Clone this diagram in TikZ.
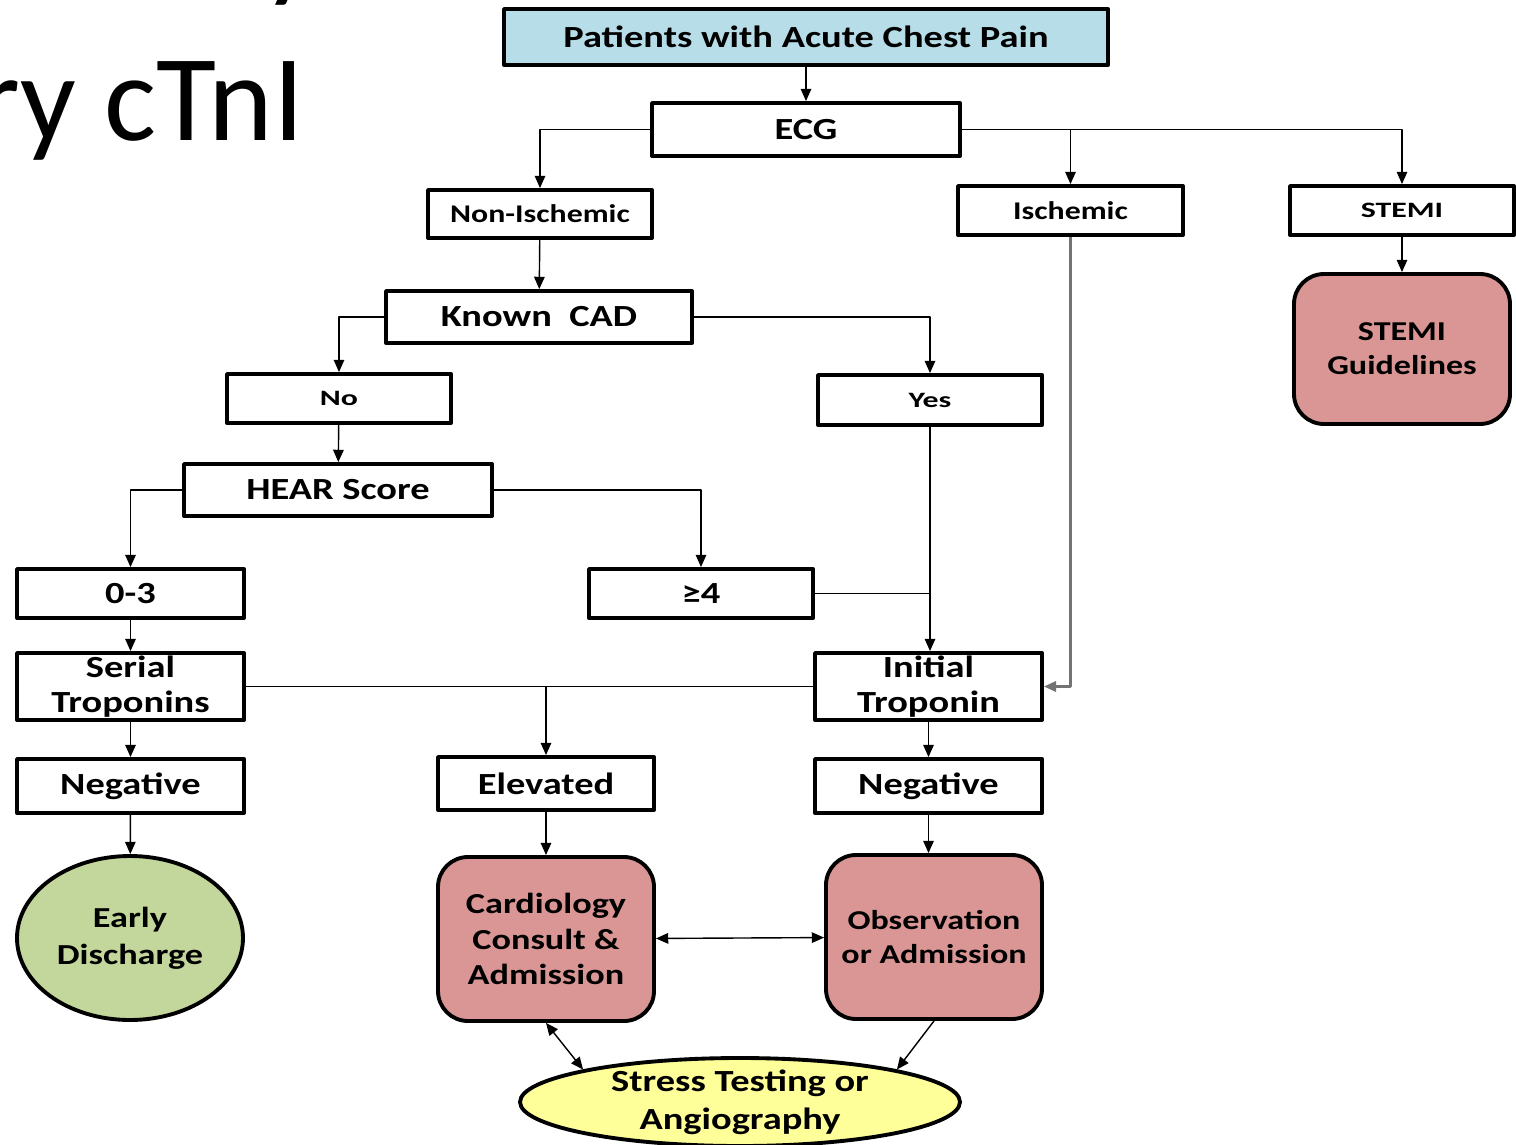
\documentclass[tikz,border=0pt]{standalone}
\usepackage{fontspec}
\setmainfont{Carlito}
\newfontfamily\wfont[FakeStretch=1.25]{Carlito}
\newfontfamily\xwfont[FakeStretch=1.45]{Carlito}
\usetikzlibrary{arrows.meta,shapes.geometric}
\definecolor{paleblue}{RGB}{183,221,232}
\definecolor{rosy}{RGB}{217,150,148}
\definecolor{sage}{RGB}{195,214,155}
\definecolor{lemon}{RGB}{255,255,153}
\tikzset{
  boxsz/.style 2 args={minimum width=#1*0.02cm, minimum height=#2*0.02cm},
  box/.style={draw, line width=2.2pt, inner sep=0pt, align=center, fill=white},
  rbox/.style={box, rounded corners=0.6cm, fill=rosy},
  oval/.style={box, ellipse},
  title/.style={inner sep=0pt, font=\fontsize{70}{80}\selectfont},
  txtbig/.style={font=\wfont\bfseries\fontsize{17.5}{20}\selectfont},
  txtmid/.style={font=\wfont\bfseries\fontsize{14.5}{17}\selectfont},
  txtsml/.style={font=\xwfont\bfseries\fontsize{12.5}{15}\selectfont},
  txtrnd/.style={font=\wfont\bfseries\fontsize{16.5}{20}\selectfont},
  link/.style={line width=0.8pt},
}
\begin{document}
\begin{tikzpicture}[x=0.02cm, y={(0cm,-0.02cm)}, >={Triangle[length=7pt,width=6pt]}, line join=round]
\useasboundingbox (0,0) rectangle (1516,1144);
% slide title, cut by the frame
\node[title, anchor=base west] (ttl) at (-23,140) {ry cTnI};
\node[title, anchor=base west] (ttlup) at (262,-15) {y};

% first levels
\node[box, boxsz={604}{56}, fill=paleblue, font=\wfont\bfseries\fontsize{17.5}{20}\selectfont] (pat) at (806,37) {Patients with Acute Chest Pain};
\node[box, boxsz={308}{53}, txtbig] (ecg) at (806,129.5) {ECG};
\node[box, boxsz={224}{48}, txtmid] (nonisch) at (540,214) {Non-Ischemic};
\node[box, boxsz={225}{49}, txtmid] (isch) at (1070.5,210.5) {Ischemic};
\node[box, boxsz={224}{49}, txtsml] (stemi) at (1402,210.5) {STEMI};
\node[rbox, boxsz={216}{150}, font=\wfont\bfseries\fontsize{15.5}{19.5}\selectfont] (stemig) at (1402,349) {STEMI\\Guidelines};

% known CAD branch
\node[box, boxsz={306}{52}, txtbig] (kcad) at (539,317) {Known~~CAD};
\node[box, boxsz={224}{49}, txtsml] (no) at (339,398.5) {No};
\node[box, boxsz={224}{50}, txtsml] (yes) at (930,400) {Yes};
\node[box, boxsz={308}{52}, txtbig] (hear) at (338,490) {HEAR Score};
\node[box, boxsz={227}{49}, txtbig] (zt) at (130.5,593.5) {0-3};
\node[box, boxsz={224}{49}, txtbig] (ge4) at (701,593.5) {≥4};

% troponins
\node[box, boxsz={227}{67}, label={[txtbig, align=center, inner sep=0pt]center:{Serial\\[-0.5pt]Troponins}}] (serial) at (130.5,686.5) {};
\node[box, boxsz={227}{67}, label={[txtbig, align=center, inner sep=0pt]center:{Initial\\[-0.5pt]Troponin}}] (init) at (928.5,686.5) {};
\node[box, boxsz={227}{54}, txtbig] (negl) at (130.5,786) {Negative};
\node[box, boxsz={216}{53}, txtbig] (elev) at (546,783.5) {Elevated};
\node[box, boxsz={227}{54}, txtbig] (negr) at (928.5,786) {Negative};

% outcomes
\node[oval, boxsz={226}{164}, fill=sage, font=\wfont\bfseries\fontsize{16.5}{21}\selectfont] (early) at (130,938) {Early\\Discharge};
\node[rbox, boxsz={216}{164}, txtrnd] (card) at (546,939) {Cardiology\\Consult \&\\Admission};
\node[rbox, boxsz={216}{164}, font=\wfont\bfseries\fontsize{15.5}{19.5}\selectfont] (obs) at (934,937) {Observation\\or Admission};
\node[oval, boxsz={440}{88}, fill=lemon, label={[align=center, inner sep=0pt, font=\wfont\bfseries\fontsize{17.5}{21.5}\selectfont]center:{Stress Testing or\\Angiography}}] (stress) at (740,1102) {};

% connectors
\draw[link,->] (pat) -- (ecg);
\draw[link,->] (ecg.west) -| (nonisch.north);
\draw[link,->] (ecg.east) -| (stemi.north);
\draw[link,->] (ecg.east -| isch.north) -- (isch.north);
\draw[link,->] (stemi) -- (stemig);
\draw[link,->] (nonisch) -- (kcad);
\draw[link,->] (kcad.west) -| (no.north);
\draw[link,->] (kcad.east) -| (yes.north);
\draw[link,->] (no) -- (hear);
\draw[link,->] (hear.west) -| (zt.north);
\draw[link,->] (hear.east) -| (ge4.north);
\draw[link,->] (yes.south) -- (yes.south |- init.north);
\draw[link] (ge4.east) -- (ge4.east -| yes.south);
\draw[link,->, draw=black!55, line width=1.3pt] (isch.south) |- (init.east);
\draw[link,->] (zt) -- (serial);
\draw[link] (serial.east) -- (init.west);
\draw[link,->] (serial.east -| elev.north) -- (elev.north);
\draw[link,->] (serial) -- (negl);
\draw[link,->] (init) -- (negr);
\draw[link,->] (negl) -- (early);
\draw[link,->] (elev) -- (card);
\draw[link,->] (negr.south) -- (negr.south |- obs.north);
\draw[link,<->] (card) -- (obs);
\draw[link,<->] (card.south) -- (stress.north west);
\draw[link,->] (obs.south) -- (stress.north east);
\end{tikzpicture}
\end{document}
